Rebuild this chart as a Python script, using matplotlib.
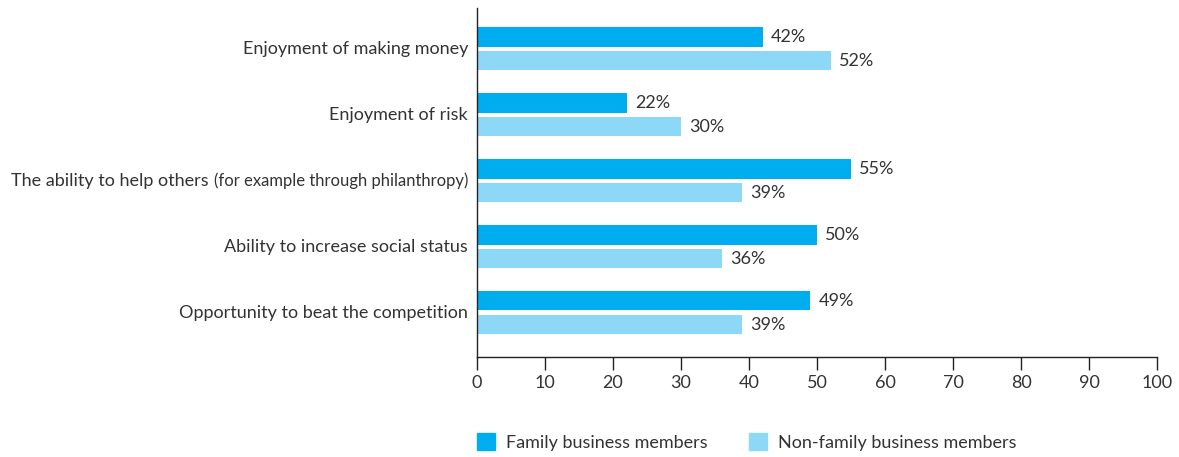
import matplotlib
matplotlib.use("Agg")
import matplotlib.pyplot as plt
from matplotlib.patches import Patch
import numpy as np

# data
categories = [
    "Enjoyment of making money",
    "Enjoyment of risk",
    "The ability to help others",
    "Ability to increase social status",
    "Opportunity to beat the competition",
]
category_notes = ["", "", "(for example through philanthropy)", "", ""]
family = [42, 22, 55, 50, 49]
non_family = [52, 30, 39, 36, 39]
series_names = ["Family business members", "Non-family business members"]
xticks = [0, 10, 20, 30, 40, 50, 60, 70, 80, 90, 100]

dark_blue = "#00AEEF"
light_blue = "#8ED8F7"
text_col = "#333333"

plt.rcParams['font.family'] = ['Lato', 'DejaVu Sans']

fig = plt.figure(figsize=(11.79, 4.57), dpi=100)
ax = fig.add_axes([477 / 1179, 1 - 357 / 457, 680 / 1179, 349 / 457])

y = np.arange(len(categories))
h = 0.29
off = 0.18
ax.barh(y - off, family, height=h, color=dark_blue)
ax.barh(y + off, non_family, height=h, color=light_blue)

for yi, v in zip(y - off, family):
    ax.annotate(f"{v}%", (v, yi), xytext=(6, 0), textcoords="offset points",
                va="center", ha="left", fontsize=13, color=text_col)
for yi, v in zip(y + off, non_family):
    ax.annotate(f"{v}%", (v, yi), xytext=(6, 0), textcoords="offset points",
                va="center", ha="left", fontsize=13, color=text_col)

ax.set_xlim(0, 100)
ax.set_ylim(len(categories) - 0.33, -0.62)
ax.set_xticks(xticks)
ax.set_yticks([])
ax.tick_params(axis="x", direction="out", length=9, width=1, colors="#222222",
               labelsize=13, labelcolor=text_col, pad=4)
for s in ["top", "right"]:
    ax.spines[s].set_visible(False)
for s in ["left", "bottom"]:
    ax.spines[s].set_color("#222222")
    ax.spines[s].set_linewidth(1)

# category labels, with the smaller note part where there is one
renderer = fig.canvas.get_renderer()
x_right = 468 / 1179
for yi, name, note in zip(y, categories, category_notes):
    yf = ax.transData.transform((0, yi))[1] / fig.bbox.height
    xr = x_right
    if note:
        t = fig.text(xr, yf, note, ha="right", va="center", fontsize=12,
                     color=text_col)
        bb = t.get_window_extent(renderer)
        xr = (bb.x0 - 5) / fig.bbox.width
    fig.text(xr, yf, name, ha="right", va="center", fontsize=13,
             color=text_col)

handles = [Patch(color=dark_blue), Patch(color=light_blue)]
fig.legend(handles, series_names, ncol=2, loc="center left",
           bbox_to_anchor=(477 / 1179, 1 - 442 / 457), frameon=False,
           handlelength=1.0, handleheight=1.1, handletextpad=0.6,
           columnspacing=2.3, borderpad=0, borderaxespad=0, fontsize=13,
           labelcolor=text_col)

fig.savefig("out.png", dpi=100)
